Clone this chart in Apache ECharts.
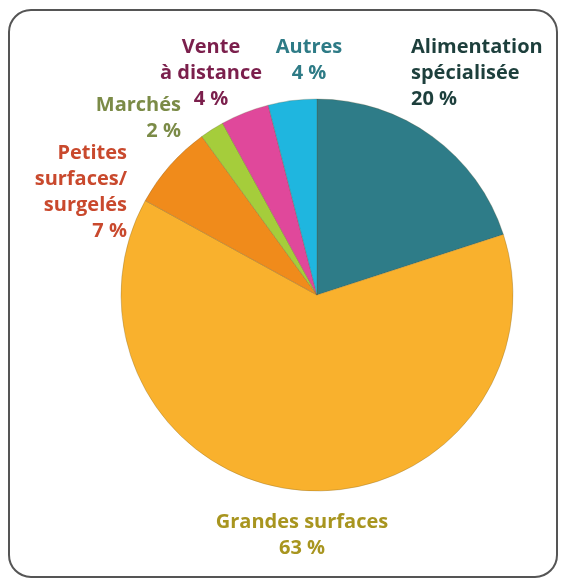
<!DOCTYPE html>
<html><head><meta charset="utf-8">
<script src="https://cdn.jsdelivr.net/npm/echarts@6/dist/echarts.min.js"></script>
<style>html,body{margin:0;padding:0;background:#fff}#c{width:563px;height:581px}</style>
</head><body><div id="c"></div>
<script>
const categories = ['Alimentation\nspécialisée', 'Grandes surfaces', 'Petites\nsurfaces/\nsurgelés', 'Marchés', 'Vente\nà distance', 'Autres'];
const values = [20, 63, 7, 2, 4, 4];
const sliceColors = ['#2e7c88', '#f9b12d', '#f08b1b', '#a5cd3b', '#e0489b', '#1fb6df'];
const labelColors = ['#1d3f3c', '#a8951f', '#c9492d', '#7b8b47', '#7b1f4c', '#2e7b86'];
// label anchor (x, y-center, align) per category
const labelPos = [[411, 73, 'left'], [302, 535, 'center'], [127, 192, 'right'], [181, 118, 'right'], [211, 73, 'center'], [309, 60, 'center']];

const chart = echarts.init(document.getElementById('c'), null, {renderer: 'canvas'});
chart.setOption({
  animation: false,
  graphic: [{type: 'rect', shape: {x: 9, y: 10, width: 548, height: 567, r: 22}, style: {fill: 'none', stroke: '#555', lineWidth: 2}}],
  series: [{
    type: 'pie',
    center: [317, 295],
    radius: [0, 196],
    startAngle: 90,
    clockwise: true,
    avoidLabelOverlap: false,
    label: {
      show: true,
      formatter: p => p.name + '\n' + p.value + ' %',
      fontFamily: 'Open Sans',
      fontWeight: 'bold',
      fontSize: 20,
      lineHeight: 26,
      overflow: 'none',
      width: 300
    },
    labelLine: {show: false},
    labelLayout: p => {
      const lp = labelPos[p.dataIndex];
      return {x: lp[0], y: lp[1], align: lp[2], verticalAlign: 'middle'};
    },
    itemStyle: {borderColor: 'rgba(90,80,40,0.5)', borderWidth: 0.5},
    emphasis: {disabled: true},
    data: categories.map((c, i) => ({
      name: c, value: values[i],
      itemStyle: {color: sliceColors[i]},
      label: {color: labelColors[i], align: labelPos[i][2]}
    }))
  }]
});
</script></body></html>
